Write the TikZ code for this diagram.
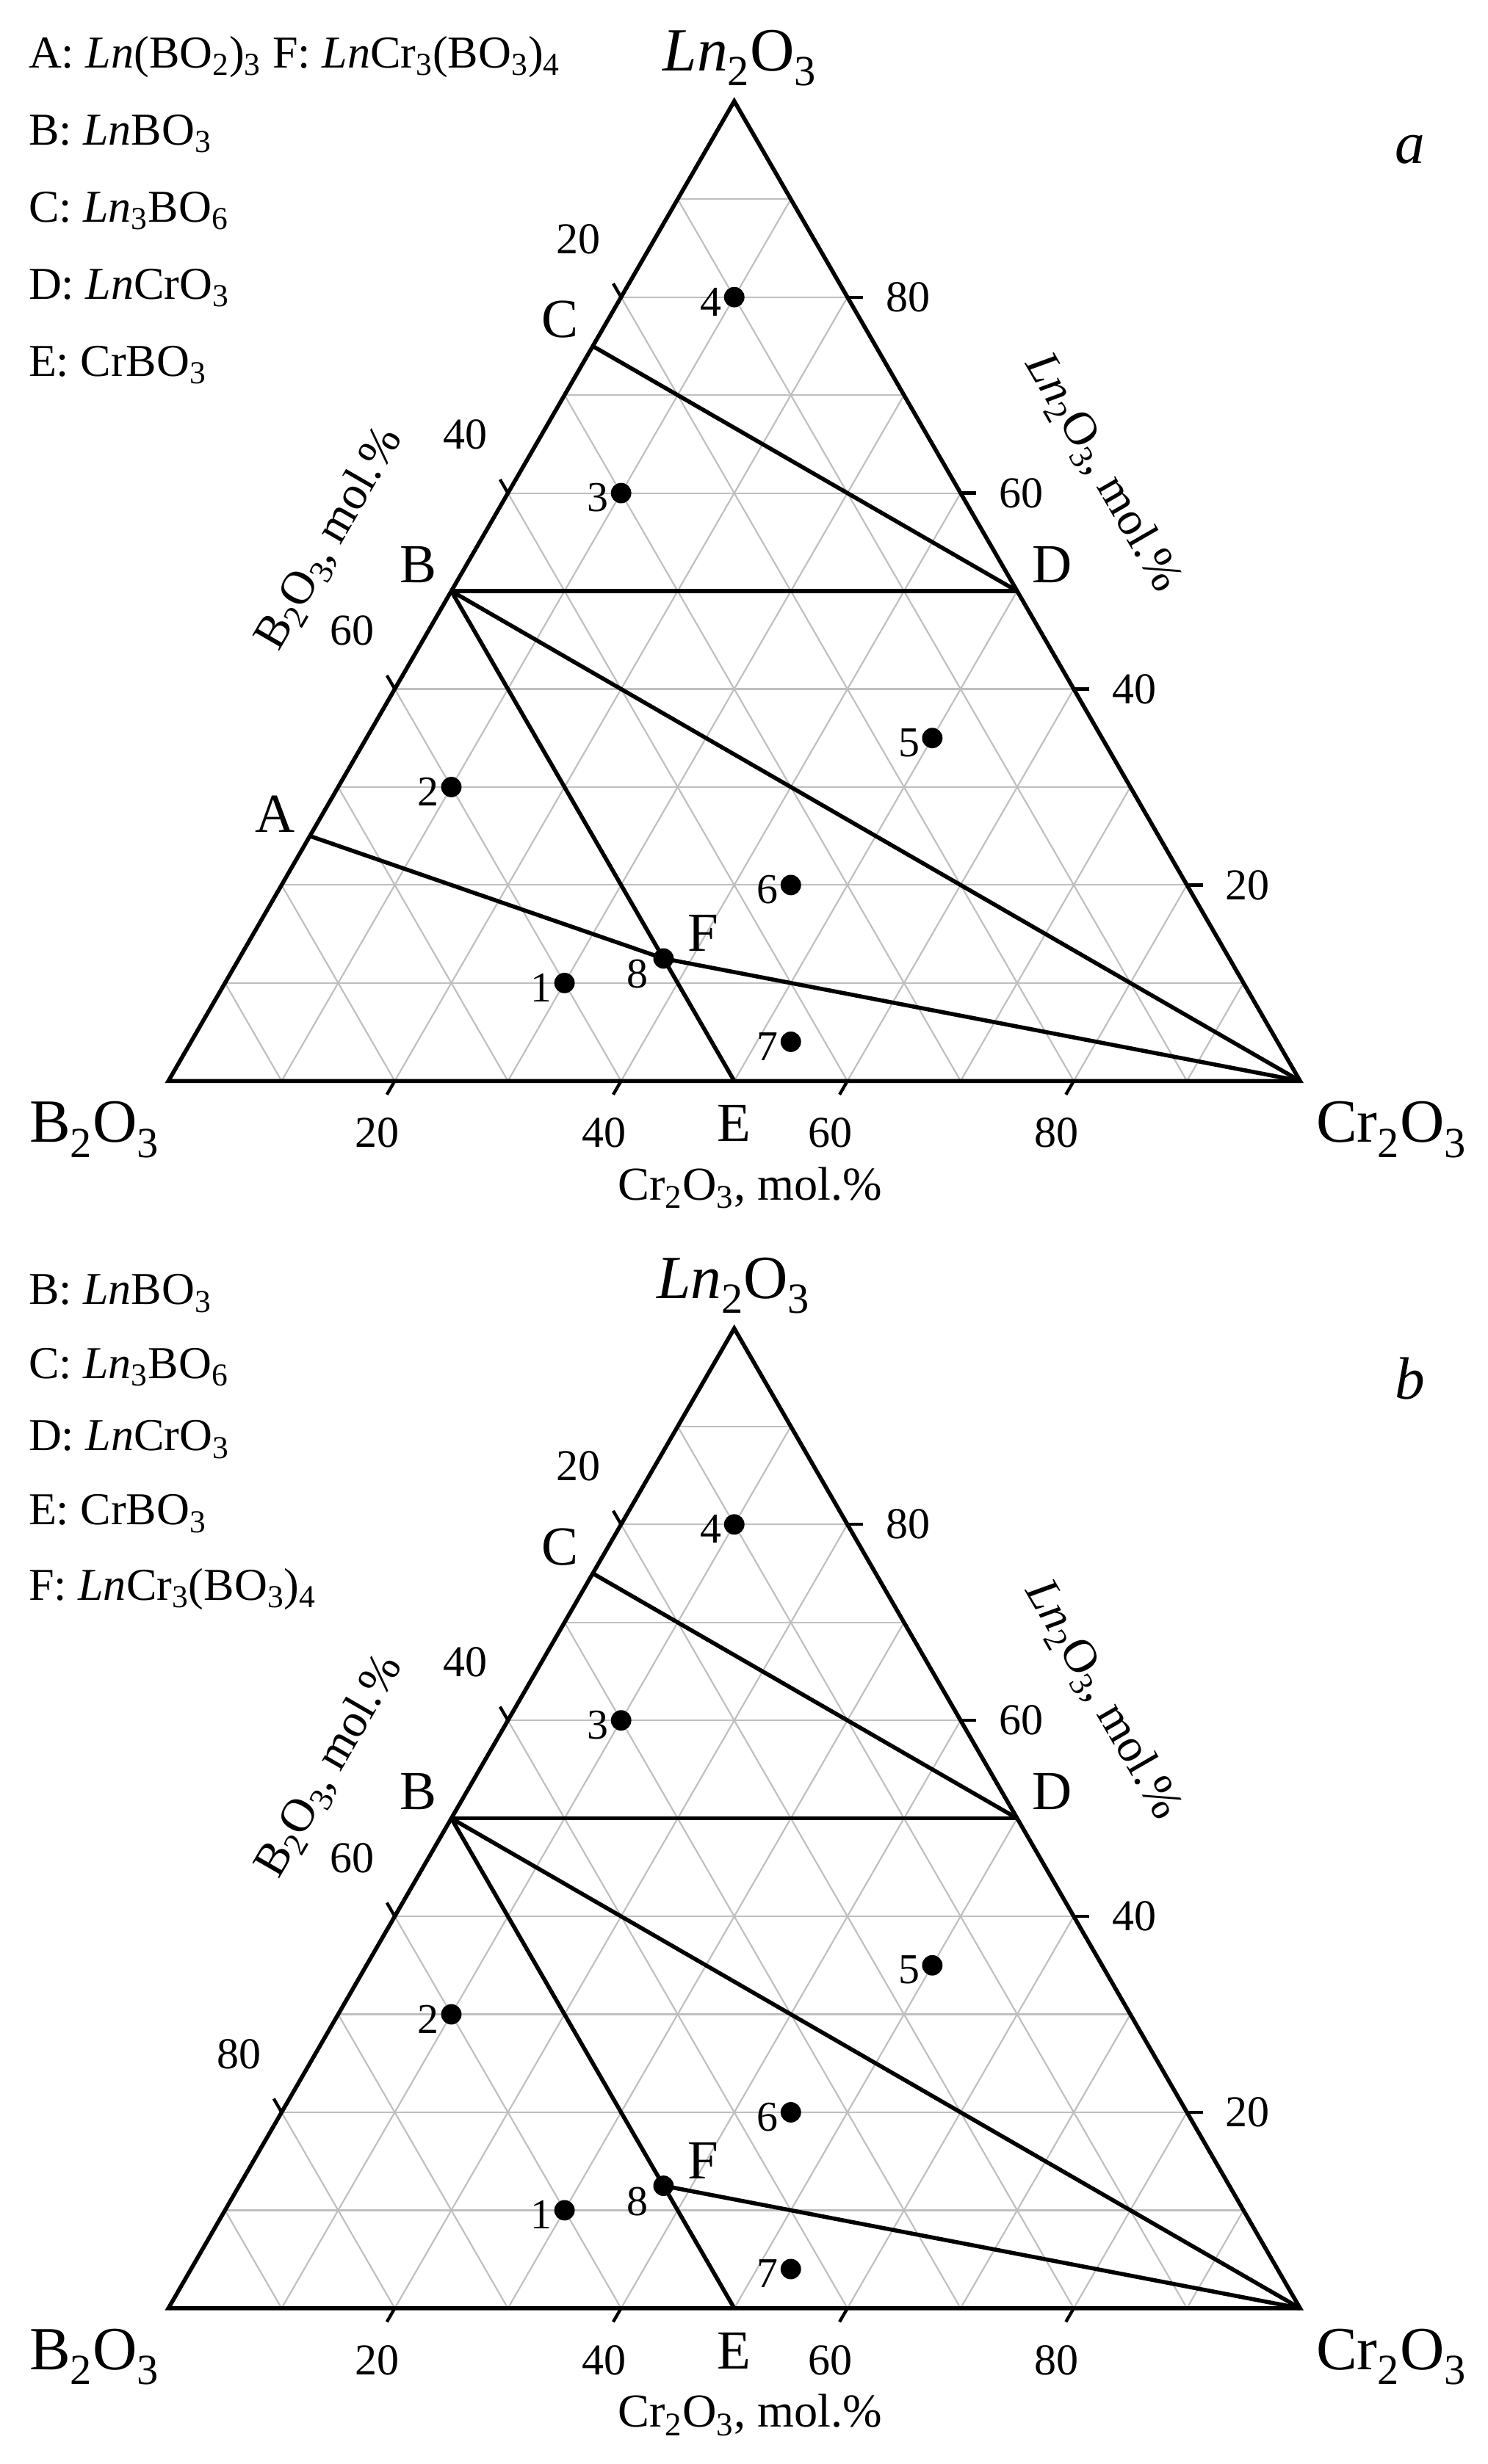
\documentclass[tikz,border=0pt]{standalone}
\usepackage{fontspec}
\setmainfont{Liberation Serif}
\newcommand\sbs[1]{\textsubscript{#1}}
\newcommand\Ln{\textit{Ln}}
\newcommand\fsz[1]{\fontsize{#1}{#1}\selectfont}
\begin{document}
\begin{tikzpicture}[x=1pt,y=-1pt,
  frame/.style={line width=2.6pt,line join=miter},
  tieline/.style={line width=2.6pt},
  gridline/.style={line width=1pt,black!25},
  tickline/.style={line width=2pt},
  numlab/.style={font=\fsz{28}},
  ptlab/.style={font=\fsz{35}},
  vlab/.style={font=\fsz{39}},
  axlab/.style={font=\fsz{30}},
  dotlab/.style={font=\fsz{27},anchor=east,inner sep=0pt},
  legend/.style={font=\fsz{29},anchor=base west,inner sep=0pt},
  dot/.style={circle,fill=black,inner sep=0pt,minimum size=13pt}]
\useasboundingbox (0,0) rectangle (945,1566);
\newcommand\panel[2]{%
\begin{scope}[shift={(107,#1)}]
\begin{scope}[x={(719pt,0pt)},y={(359.5pt,622.7pt)}]
  \foreach \i in {1,...,9}{
    \pgfmathsetmacro\f{\i/10}
    \pgfmathsetmacro\g{1-\i/10}
    \draw[gridline] (0,\f) -- (\g,\f);
    \draw[gridline] (\f,0) -- (\f,\g);
    \draw[gridline] (\g,0) -- (0,\g);
  }
  \coordinate (Bv) at (0,0);
  \coordinate (Cv) at (1,0);
  \coordinate (Lv) at (0,1);
  \draw[frame] (Bv) -- (Cv) -- (Lv) -- cycle;
  \foreach \v in {20,40,60,80}{
    \pgfmathsetmacro\f{\v/100}
    \pgfmathsetmacro\g{1-\v/100}
    \coordinate (bt\v) at (\f,0);
    \draw[tickline] (bt\v) -- ++(-5pt,-8.66pt);
    \node[numlab] (bn\v) at ([shift={(-11pt,-33pt)}]bt\v) {\v};
    \coordinate (rt\v) at (\g,\f);
    \draw[tickline] (rt\v) -- ++(10pt,0pt);
    \node[numlab,anchor=west] (rn\v) at ([shift={(21pt,0pt)}]rt\v) {\v};
  }
  \foreach \v in {20,40,60#2}{
    \pgfmathsetmacro\g{1-\v/100}
    \coordinate (lt\v) at (0,\g);
    \draw[tickline] (lt\v) -- ++(-5pt,8.66pt);
    \node[numlab] (ln\v) at ([shift={(-27pt,37pt)}]lt\v) {\v};
  }
  \coordinate (pB) at (0,0.5);
  \coordinate (pC) at (0,0.75);
  \coordinate (pD) at (0.5,0.5);
  \coordinate (pE) at (0.5,0);
  \coordinate (pF) at (0.375,0.125);
  \coordinate (pA) at (0,0.25);
  \draw[tieline] (pC) -- (pD);
  \draw[tieline] (pB) -- (pD);
  \draw[tieline] (pB) -- (Cv);
  \draw[tieline] (pB) -- (pE);
  \draw[tieline] (pF) -- (Cv);
  \node[ptlab] (lB) at ([shift={(-21pt,17pt)}]pB) {B};
  \node[ptlab] (lC) at ([shift={(-21pt,17pt)}]pC) {C};
  \node[ptlab] (lD) at ([shift={(22pt,17pt)}]pD) {D};
  \node[ptlab] (lE) at ([shift={(0pt,-27pt)}]pE) {E};
  \node[ptlab] (lF) at ([shift={(25pt,16pt)}]pF) {F};
  \node[dot] (d1) at (0.30,0.10) {};
  \node[dot] (d2) at (0.10,0.30) {};
  \node[dot] (d3) at (0.10,0.60) {};
  \node[dot] (d4) at (0.10,0.80) {};
  \node[dot] (d5) at (0.50,0.35) {};
  \node[dot] (d6) at (0.45,0.20) {};
  \node[dot] (d7) at (0.53,0.04) {};
  \node[dot] (d8) at (pF) {};
  \foreach \k in {1,...,7}{\node[dotlab] (n\k) at ([xshift=-1pt,yshift=-3pt]d\k.west) {\k};}
  \node[dotlab] (n8) at ([shift={(-3pt,-10pt)}]d8.west) {8};
  \node[vlab] (vB) at ([shift={(-47pt,-31pt)}]Bv) {B\sbs{2}O\sbs{3}};
  \node[vlab] (vC) at ([shift={(58pt,-31pt)}]Cv) {Cr\sbs{2}O\sbs{3}};
  \node[axlab] (axC) at ([shift={(10pt,-68pt)}]pE) {Cr\sbs{2}O\sbs{3}, mol.\%};
  \node[axlab,rotate=60] (axB) at ([shift={(-77pt,33pt)}]pB) {B\sbs{2}O\sbs{3}, mol.\%};
  \node[axlab,rotate=-60] (axL) at ([shift={(54pt,75pt)}]pD) {\Ln\sbs{2}O\sbs{3}, mol.\%};
\end{scope}
\end{scope}}
% panel a
\panel{687}{}
\draw[tieline] (pA) -- (pF);
\node[ptlab] (lA) at ([shift={(-22pt,14pt)}]pA) {A};
\node[vlab,anchor=base west,inner sep=0pt] (La) at (421,45) {\Ln\sbs{2}O\sbs{3}};
\node[vlab,font=\fsz{38}\itshape] (ta) at (896,95) {a};
\node[legend] (la1) at (18,43) {A: \Ln(BO\sbs{2})\sbs{3} F: \Ln Cr\sbs{3}(BO\sbs{3})\sbs{4}};
\node[legend] (la2) at (18,92) {B: \Ln BO\sbs{3}};
\node[legend] (la3) at (18,141) {C: \Ln\sbs{3}BO\sbs{6}};
\node[legend] (la4) at (18,190) {D: \Ln CrO\sbs{3}};
\node[legend] (la5) at (18,239) {E: CrBO\sbs{3}};
% panel b
\panel{1467}{,80}
\node[vlab,anchor=base,inner sep=0pt] (Lb) at (466,825) {\Ln\sbs{2}O\sbs{3}};
\node[vlab,font=\fsz{38}\itshape] (tb) at (896,876) {b};
\node[legend] (lb1) at (18,829) {B: \Ln BO\sbs{3}};
\node[legend] (lb2) at (18,876) {C: \Ln\sbs{3}BO\sbs{6}};
\node[legend] (lb3) at (18,922) {D: \Ln CrO\sbs{3}};
\node[legend] (lb4) at (18,969) {E: CrBO\sbs{3}};
\node[legend] (lb5) at (18,1017) {F: \Ln Cr\sbs{3}(BO\sbs{3})\sbs{4}};
\end{tikzpicture}
\end{document}
